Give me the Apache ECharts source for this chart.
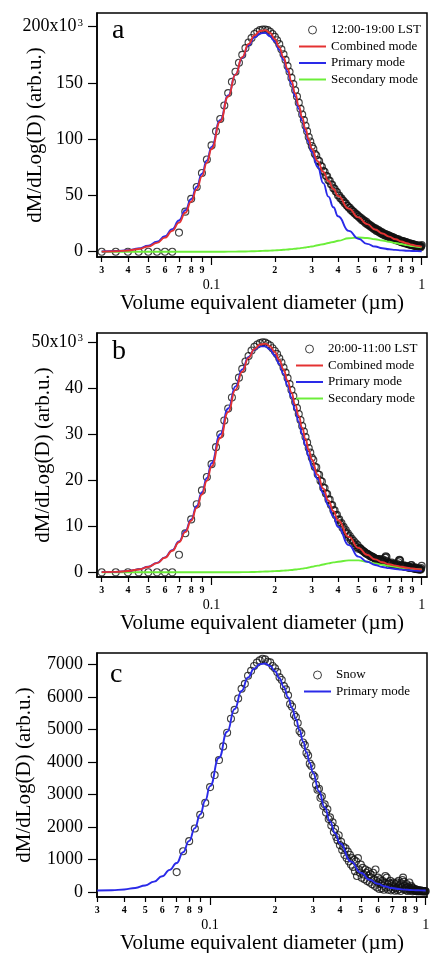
<!DOCTYPE html>
<html>
<head>
<meta charset="utf-8">
<script src="https://cdn.jsdelivr.net/npm/echarts@6/dist/echarts.min.js"></script>
<style>
  html, body { margin: 0; padding: 0; background: #fff; }
  #chart { width: 432px; height: 953px; }
</style>
</head>
<body>
<div id="chart"></div>
<script>
// volume equivalent diameter of every measured point (µm)
const diameters = [
  0.030,0.035,0.040,0.045,0.050,0.055,0.060,0.065,0.070,0.075,
  0.080,0.085,0.090,0.095,0.100,0.105,0.110,0.115,0.120,0.125,
  0.130,0.135,0.140,0.145,0.150,0.155,0.160,0.165,0.170,0.175,
  0.180,0.185,0.190,0.195,0.200,0.205,0.210,0.215,0.220,0.225,
  0.230,0.235,0.240,0.245,0.250,0.255,0.260,0.265,0.270,0.275,
  0.280,0.285,0.290,0.295,0.300,0.305,0.310,0.315,0.320,0.325,
  0.330,0.335,0.340,0.345,0.350,0.355,0.360,0.365,0.370,0.375,
  0.380,0.385,0.390,0.395,0.400,0.405,0.410,0.415,0.420,0.425,
  0.430,0.435,0.440,0.445,0.450,0.455,0.460,0.465,0.470,0.475,
  0.480,0.485,0.490,0.495,0.500,0.505,0.510,0.515,0.520,0.525,
  0.530,0.535,0.540,0.545,0.550,0.555,0.560,0.565,0.570,0.575,
  0.580,0.585,0.590,0.595,0.600,0.605,0.610,0.615,0.620,0.625,
  0.630,0.635,0.640,0.645,0.650,0.655,0.660,0.665,0.670,0.675,
  0.680,0.685,0.690,0.695,0.700,0.705,0.710,0.715,0.720,0.725,
  0.730,0.735,0.740,0.745,0.750,0.755,0.760,0.765,0.770,0.775,
  0.780,0.785,0.790,0.795,0.800,0.805,0.810,0.815,0.820,0.825,
  0.830,0.835,0.840,0.845,0.850,0.855,0.860,0.865,0.870,0.875,
  0.880,0.885,0.890,0.895,0.900,0.905,0.910,0.915,0.920,0.925,
  0.930,0.935,0.940,0.945,0.950,0.955,0.960,0.965,0.970,0.975,
  0.980,0.985,0.990,0.995,1.000
];

// panel a, 12:00-19:00 LST (x10^3)
const valuesA = [
  0,0,0,0,0,0,0,0,17,35.6,
  47,57.5,70,82,94.5,107,118,130,141,151,
  160,168,175,181,186,190,193.5,195.5,197,197.5,
  197.5,197,195.5,193.5,191,188,184.5,180,175.5,170.5,
  165,160,154.5,149,143.5,138,132.5,127,122,117,
  112,107,102,98,94,91.5,87,85.5,81.5,80.5,
  76.5,75.5,72,71,67.5,67,63.5,63,60,59.5,
  56.5,56,53.5,53,50,50,47.5,47.5,45.5,45,
  43,43,41,40.5,39,39,37,37,35.5,35.5,
  34,34,32.5,32.5,31,31,29.5,30,28,28.5,
  27,27.5,25.5,26.5,24.5,25,23.5,24,22.5,23,
  21.5,22,20.5,21,19.5,20.5,18.5,19.5,18,19,
  17,18,16.5,17.5,15.5,16.5,15,16,14.5,15.5,
  14,15,13.5,14.5,13,14,12.5,13.5,12,13,
  11.5,12.5,11,12,10.5,11.5,10,11,10,11,
  9.5,10,9,10,8.5,9.5,8.5,9.5,8,9,
  7.5,8.5,7.5,8.5,7,8,7,7.5,6.5,7.5,
  6.5,7,6,7,6,6.5,5.5,6.5,5.5,6,
  5,6,5,5.5,5,5.5,4.5,5.5,4.5,5,
  4.5,5,4,5,6
];

// panel b, 20:00-11:00 LST (x10^3)
const valuesB = [
  0,0,0,0,0,0,0,0,3.8,8.5,
  11.5,14.8,17.8,20.7,23.5,27.2,30,33,35.6,38,
  40.3,42.3,44.2,45.8,47,48.2,49,49.5,49.8,50,
  49.9,49.6,49.3,48.7,48.1,47.4,46.5,45.6,44.5,43.4,
  42.2,40.9,39.6,38.3,37,35.7,34.4,33.1,31.8,30.6,
  29.4,28.2,27,26,24.9,24.4,22.9,22.8,21.3,21.2,
  19.9,19.7,18.4,18.3,17.1,17,15.8,15.8,14.6,14.6,
  13.5,13.5,12.4,12.5,11.4,11.5,10.5,10.7,9.7,9.9,
  8.9,9.2,8.3,8.5,7.6,7.9,7,7.3,6.4,6.8,
  5.9,6.3,5.5,5.9,5.1,5.3,5.2,5,4.8,4.7,
  4.5,4.4,4.2,4.1,4,3.9,3.8,3.6,3.6,3.4,
  3.4,3.3,3.2,3.1,3,2.9,2.9,2.8,2.8,2.7,
  2.9,2.6,2.6,2.5,2.8,2.4,2.4,2.6,3.2,3.5,
  3.3,2.4,2.1,2,2,1.9,1.9,1.8,2.1,1.8,
  1.7,1.7,1.9,1.6,1.6,1.6,1.5,1.8,1.5,2.2,
  2.6,2.7,2.5,1.6,1.4,1.4,1.3,1.3,1.5,1.3,
  1.2,1.2,1.4,1.2,1.1,1.1,1.3,1.1,1,1.2,
  1,1,1.5,1.6,1.2,0.9,0.9,1,0.8,0.8,
  1.1,0.8,0.8,0.7,0.9,0.7,0.7,0.7,0.8,0.6,
  0.6,0.7,0.6,0.9,1.4
];

// panel c, snow
const valuesC = [
  null,null,null,null,null,null,null,null,620,1260,
  1570,1960,2380,2750,3230,3600,4060,4480,4900,5330,
  5600,5950,6250,6400,6650,6800,6950,7050,7120,7170,
  7150,7080,7060,6950,6880,6760,6600,6520,6330,6230,
  6050,5780,5700,5450,5380,5200,4950,4880,4600,4520,
  4280,4200,3950,3880,3600,3550,3300,3150,3180,2900,
  2950,2650,2700,2450,2550,2250,2300,2050,2150,1850,
  1950,1700,1600,1750,1450,1550,1300,1400,1150,1350,
  1050,1250,950,1150,850,1050,780,1000,650,950,
  500,1050,700,600,850,450,750,550,400,700,
  600,350,650,500,300,550,450,250,600,400,
  200,700,350,150,450,300,100,400,250,120,
  350,200,80,300,500,150,450,250,80,300,
  150,350,60,250,200,100,300,150,50,250,
  120,300,60,180,350,100,220,40,280,150,
  380,450,320,90,200,120,60,250,150,40,
  180,90,300,130,50,200,80,150,30,120,
  60,90,40,100,50,80,30,60,40,70,
  30,50,40,60,30,40,50,30,40,30,
  40,30,40,30,30
];

// fitted curves, read at these diameters
const curveD = [
  0.03,0.035,0.04,0.045,0.05,0.055,0.06,0.065,0.07,0.075,0.08,0.085,0.09,0.095,0.1,
  0.11,0.12,0.13,0.14,0.15,0.16,0.17,0.18,0.19,0.2,0.21,0.22,0.23,0.24,0.25,0.26,0.27,0.28,0.29,0.3,
  0.32,0.34,0.36,0.38,0.4,
  0.45,0.5,0.55,0.6,0.65,0.7,0.75,0.8,0.85,0.9,0.95,1.0
];
const combinedA = [
  0.12,0.4,1.07,2.4,4.6,7.9,12.5,18.5,25.9,34.6,44.5,55.4,67,79,91.3,
  115.6,138,157.4,173,184.7,192.3,196.2,197,194.5,189.2,181.9,172.9,162.6,151.8,140.8,129.9,119.4,109.3,99.8,91.5,
  80.5,71,62.8,55.7,49.5,
  38.3,30.5,24.5,19.8,16.2,13.4,11.1,9.1,7.5,6.2,5.2,4.4
];
const primaryA = [
  0.2,0.6,1.4,2.9,5.3,8.9,13.8,20.1,27.8,36.8,46.8,57.8,69.3,81.2,93.2,
  117,138.8,157.5,172.5,183.5,190.5,194,194.5,191.5,187,179.5,170.5,160,149,138,127,116.5,106.5,97,88.5,
  75.5,61,49,39.5,31.5,
  18.5,11.5,7,4.6,3.1,2.2,1.6,1.2,0.9,0.7,0.5,0.4
];
const secondaryA = [
  0,0,0,0,0,0,0,0,0,0,0,0,0,0,0,
  0,0.05,0.1,0.2,0.3,0.4,0.6,0.8,1,1.2,1.45,1.7,2,2.3,2.65,3,3.4,3.8,4.25,4.7,
  5.7,6.7,7.7,8.7,9.7,
  12,12.7,12.2,11.1,10,8.9,7.8,6.8,5.9,5.1,4.4,3.8
];
const combinedB = [
  0.03,0.1,0.27,0.61,1.16,1.99,3.15,4.67,6.53,8.73,11.2,14,16.9,19.9,23,
  29.2,34.8,39.7,43.6,46.6,48.5,49.5,49.7,49.1,47.9,46.2,44.1,41.7,39.1,36.5,34,31.4,29,26.6,24.5,
  21.2,18.2,15.6,13.3,11.3,
  7.7,5.3,3.8,2.8,2.2,1.75,1.45,1.2,1,0.85,0.7,0.6
];
const primaryB = [
  0.03,0.1,0.28,0.63,1.2,2.05,3.25,4.8,6.7,9,11.5,14.4,17.4,20.5,23.7,
  30,35.6,40.4,44.1,46.8,48.4,49.1,49.1,48.4,47.1,45.3,43.1,40.6,38,35.3,32.7,30.1,27.6,25.2,23,
  20.3,17.2,14.5,12.1,9.9,
  5.9,3.4,2.3,1.6,1.15,0.9,0.72,0.58,0.48,0.4,0.35,0.3
];
const secondaryB = [
  0,0,0,0,0,0,0,0,0,0,0,0,0,0,0,
  0,0,0.02,0.03,0.05,0.08,0.12,0.16,0.2,0.25,0.3,0.36,0.43,0.5,0.6,0.7,0.8,0.9,1.05,1.2,
  1.45,1.7,1.95,2.15,2.3,
  2.6,2.6,2.3,1.95,1.65,1.4,1.2,1,0.85,0.72,0.65,0.58
];
const primaryC = [
  54,64,88,134,211,329,493,690,900,1230,1580,1970,2390,2820,3260,
  4130,4930,5626,6181,6593,6864,7003,7026,6948,6789,6565,6294,5987,5660,5320,4976,4635,4302,3980,3672,
  3103,2606,2178,1813,1506,
  946,599,386,258,179,131,101,83,72,64,59,56
];

// tick labels
const minorTicks = [0.03,0.04,0.05,0.06,0.07,0.08,0.09,0.2,0.3,0.4,0.5,0.6,0.7,0.8,0.9];
const minorTickText = ['3','4','5','6','7','8','9','2','3','4','5','6','7','8','9'];
const majorTicks = [0.1, 1];
const majorTickText = ['0.1', '1'];
const yTicksA = [0, 50, 100, 150, 200];
const yTickTextA = ['0', '50', '100', '150', '200x10{sup|3}'];
const yTicksB = [0, 10, 20, 30, 40, 50];
const yTickTextB = ['0', '10', '20', '30', '40', '50x10{sup|3}'];
const yTicksC = [0, 1000, 2000, 3000, 4000, 5000, 6000, 7000];
const yTickTextC = ['0', '1000', '2000', '3000', '4000', '5000', '6000', '7000'];

const serif = '"Liberation Serif", "Times New Roman", serif';
const RED = '#e43232', BLUE = '#2a2ae8', GREEN = '#6cee3a';
// plain stroke for the fit entries of the legends
const LINE_ICON = 'path://M0,0L27,0L27,2L0,2Z';

function pairs(xs, ys) {
  const out = [];
  for (let i = 0; i < xs.length; i++) {
    if (ys[i] != null) out.push([xs[i], ys[i]]);
  }
  return out;
}

function pick(ticks, texts, v) {
  for (let i = 0; i < ticks.length; i++) {
    if (Math.abs(ticks[i] - v) <= Math.abs(ticks[i]) * 1e-6 + 1e-9) return texts[i];
  }
  return '';
}

const panels = [
  {
    top: 13, xMin: 0.0285, xMax: 1.06, yMin: -4.7, yMax: 212.2,
    yTicks: yTicksA, yText: yTickTextA, nameGap: 51,
    letter: 'a', letterLeft: 112, letterTop: 17, legendLeft: 299, legendTop: 23.5,
    dataName: '12:00-19:00 LST', values: valuesA,
    curves: [['Secondary mode', secondaryA, GREEN], ['Primary mode', primaryA, BLUE], ['Combined mode', combinedA, RED]]
  },
  {
    top: 333, xMin: 0.0285, xMax: 1.06, yMin: -1.02, yMax: 52,
    yTicks: yTicksB, yText: yTickTextB, nameGap: 43,
    letter: 'b', letterLeft: 112, letterTop: 337.5, legendLeft: 296, legendTop: 342.5,
    dataName: '20:00-11:00 LST', values: valuesB,
    curves: [['Secondary mode', secondaryB, GREEN], ['Primary mode', primaryB, BLUE], ['Combined mode', combinedB, RED]]
  },
  {
    top: 653, xMin: 0.0299, xMax: 1.014, yMin: -144, yMax: 7347,
    yTicks: yTicksC, yText: yTickTextC, nameGap: 62,
    letter: 'c', letterLeft: 110, letterTop: 661, legendLeft: 304, legendTop: 668.5,
    dataName: 'Snow', values: valuesC,
    curves: [['Primary mode', primaryC, BLUE]]
  }
];

const grid = [], xAxis = [], yAxis = [], series = [], legend = [], title = [];

panels.forEach((p, k) => {
  grid.push({
    left: 97, top: p.top, width: 330, height: 244,
    containLabel: false, outerBoundsMode: 'none',
    show: true, borderColor: '#000', borderWidth: 1.5, backgroundColor: 'transparent'
  });

  // minor ticks with small digits
  xAxis.push({
    type: 'log', logBase: 10, gridIndex: k, min: p.xMin, max: p.xMax, position: 'bottom',
    axisLine: { show: true, onZero: false, lineStyle: { color: '#000', width: 1.5 } },
    axisTick: { show: true, customValues: minorTicks, length: 5, lineStyle: { color: '#000', width: 1.2 } },
    axisLabel: {
      customValues: minorTicks, margin: 8, color: '#000', fontFamily: serif, fontSize: 10, fontWeight: 'bold',
      formatter: (v) => pick(minorTicks, minorTickText, v)
    },
    splitLine: { show: false }, minorTick: { show: false },
    name: 'Volume equivalent diameter (µm)', nameLocation: 'middle', nameGap: 36, nameMoveOverlap: false,
    nameTextStyle: { color: '#000', fontFamily: serif, fontSize: 21 }
  });
  // decades on the second row
  xAxis.push({
    type: 'log', logBase: 10, gridIndex: k, min: p.xMin, max: p.xMax, position: 'bottom',
    axisLine: { show: false, onZero: false },
    axisTick: { show: true, customValues: majorTicks, length: 8, lineStyle: { color: '#000', width: 1.2 } },
    axisLabel: {
      customValues: majorTicks, margin: 21, color: '#000', fontFamily: serif, fontSize: 14,
      formatter: (v) => pick(majorTicks, majorTickText, v)
    },
    splitLine: { show: false }, minorTick: { show: false }
  });

  yAxis.push({
    type: 'value', gridIndex: k, min: p.yMin, max: p.yMax,
    axisLine: { show: true, onZero: false, lineStyle: { color: '#000', width: 1.5 } },
    axisTick: { show: true, customValues: p.yTicks, length: 9, lineStyle: { color: '#000', width: 1.2 } },
    axisLabel: {
      customValues: p.yTicks, margin: 14, color: '#000', fontFamily: serif, fontSize: 18,
      formatter: (v) => pick(p.yTicks, p.yText, v),
      rich: { sup: { fontSize: 11, fontFamily: serif, color: '#000', verticalAlign: 'top', padding: [0, 0, 8, 1] } }
    },
    splitLine: { show: false },
    name: 'dM/dLog(D) (arb.u.)', nameLocation: 'middle', nameRotate: 90, nameGap: p.nameGap,
    nameMoveOverlap: false,
    nameTextStyle: { color: '#000', fontFamily: serif, fontSize: 21 }
  });

  series.push({
    type: 'scatter', name: p.dataName, xAxisIndex: 2 * k, yAxisIndex: k,
    data: pairs(diameters, p.values),
    symbol: 'circle', symbolSize: 7,
    itemStyle: { color: 'rgba(0,0,0,0)', borderColor: '#111', borderWidth: 1.1 },
    z: 2
  });
  p.curves.forEach(([name, ys, color], j) => {
    series.push({
      type: 'line', name: name, xAxisIndex: 2 * k, yAxisIndex: k,
      data: pairs(curveD, ys), smooth: true, smoothMonotone: 'x',
      symbol: 'none', showSymbol: false,
      lineStyle: { color: color, width: 1.9 }, itemStyle: { color: color },
      z: 3 + j
    });
  });

  const items = [{ name: p.dataName, icon: 'circle' }];
  p.curves.slice().reverse().forEach(([name, , color]) => {
    items.push({ name: name, icon: LINE_ICON, itemStyle: { color: color, borderWidth: 0 } });
  });
  legend.push({
    orient: 'vertical', left: p.legendLeft, top: p.legendTop, padding: 0,
    itemWidth: 27, itemHeight: 8, itemGap: 3.5, selectedMode: false,
    data: items,
    itemStyle: { borderWidth: 1 },
    textStyle: { color: '#000', fontFamily: serif, fontSize: 13 }
  });

  title.push({
    text: p.letter, left: p.letterLeft, top: p.letterTop, padding: 0,
    textStyle: { color: '#000', fontFamily: serif, fontSize: 28, fontWeight: 'normal' }
  });
});

const chart = echarts.init(document.getElementById('chart'));
chart.setOption({
  animation: false,
  backgroundColor: '#fff',
  title, grid, xAxis, yAxis, legend, series
});
</script>
</body>
</html>
